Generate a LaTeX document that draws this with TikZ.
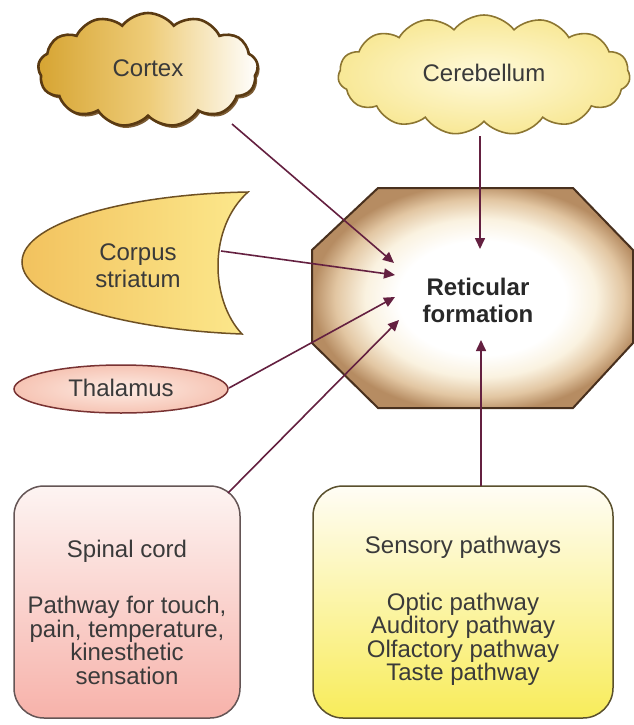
\documentclass[tikz,border=0pt]{standalone}
\usepackage{fontspec}
\setmainfont{Liberation Sans}
\usetikzlibrary{shapes.symbols,shapes.geometric,arrows.meta,shadows}
\definecolor{arrowc}{HTML}{642040}
\definecolor{txt}{HTML}{3A3A3A}
\definecolor{rfA}{HTML}{FAF2E0}
\definecolor{rfB}{HTML}{E2C6A2}
\definecolor{rfC}{HTML}{B68C62}
\definecolor{cxborder}{HTML}{5A3A12}
\definecolor{cxleft}{HTML}{D6A432}
\definecolor{cxmid}{HTML}{EECC78}
\definecolor{cxshadow}{HTML}{6E4B1E}
\definecolor{cbborder}{HTML}{8C7632}
\definecolor{cbin}{HTML}{FFFADC}
\definecolor{cbout}{HTML}{F8E896}
\definecolor{csborder}{HTML}{6E5023}
\definecolor{csleft}{HTML}{F2C25E}
\definecolor{csmid}{HTML}{FBE08C}
\definecolor{csright}{HTML}{FCE88C}
\definecolor{thborder}{HTML}{783232}
\definecolor{thin}{HTML}{FDECE4}
\definecolor{thout}{HTML}{F6C4B4}
\definecolor{rfborder}{HTML}{48301E}
\definecolor{rftext}{HTML}{282828}
\definecolor{spborder}{HTML}{645555}
\definecolor{sptop}{HTML}{FDF4F2}
\definecolor{spbot}{HTML}{F7B2AA}
\definecolor{snborder}{HTML}{5A502D}
\definecolor{sntop}{HTML}{FFFDF5}
\definecolor{snbot}{HTML}{F8EC5A}
\pgfdeclareradialshading{rfshade}{\pgfpoint{2bp}{0bp}}{color(0bp)=(white); color(13bp)=(white); color(18bp)=(rfA); color(22.5bp)=(rfB); color(26bp)=(rfC); color(50bp)=(rfC)}
\tikzset{
  lbl/.style={font=\fontsize{24}{27}\selectfont, text=txt, align=center},
  boxlbl/.style={font=\fontsize{24}{23.5}\selectfont, text=txt, align=center},
  link/.style={draw=arrowc, line width=1.6pt, -{Triangle[length=11pt,width=10pt]}},
}
\begin{document}
\begin{tikzpicture}[x=1pt,y=-1pt]
\useasboundingbox (0,0) rectangle (634,725);
\fill[white] (0,0) rectangle (634,725);

% Cortex cloud
\node[cloud, cloud puffs=13, cloud puff arc=105, aspect=1.9,
      minimum width=220pt, minimum height=114pt, inner sep=0pt,
      draw=cxborder, line width=2.6pt,
      left color=cxleft, right color=white, middle color=cxmid,
      drop shadow={shadow xshift=2pt, shadow yshift=-2.5pt, fill=cxshadow, opacity=0.9}]
      (cortex) at (148,70) {};
\node[lbl] (cortext) at (148,68) {Cortex};

% Cerebellum cloud
\node[cloud, cloud puffs=15, cloud puff arc=105, aspect=2.4,
      minimum width=292pt, minimum height=120pt, inner sep=0pt,
      draw=cbborder, line width=1.6pt,
      inner color=cbin, outer color=cbout]
      (cereb) at (484,75) {};
\node[lbl] (cerebtext) at (484,73) {Cerebellum};

% Corpus striatum
\path[draw=csborder, line width=1.5pt,
      left color=csleft, middle color=csmid, right color=csright]
  (248,192) .. controls (130,194) and (22,222) .. (22,262)
  .. controls (22,302) and (130,330) .. (242,334)
  .. controls (210,300) and (208,228) .. (248,192) -- cycle;
\node[lbl] (corpus) at (138,266) {Corpus\\striatum};

% Thalamus
\node[ellipse, minimum width=214pt, minimum height=48pt,
      draw=thborder, line width=1.5pt,
      inner color=thin, outer color=thout]
      (thal) at (121,389) {};
\node[lbl] (thaltext) at (121,388) {Thalamus};

% Reticular formation octagon
\path[shading=rfshade, draw=rfborder, line width=2pt]
  (378,188) -- (573,188) -- (633,250) -- (633,343) -- (573,408) -- (378,408) -- (312,343) -- (312,250) -- cycle;
\node[lbl, font=\bfseries\fontsize{24}{27}\selectfont, text=rftext] (rf) at (478,300) {Reticular\\formation};

% Bottom boxes
\node[draw=spborder, line width=1.5pt, rounded corners=30pt,
      minimum width=226pt, minimum height=232pt,
      top color=sptop, bottom color=spbot]
      (spinal) at (127,602) {};
\node[boxlbl] (spinaltext) at (127,612) {Spinal cord\\[33pt]Pathway for touch,\\pain, temperature,\\kinesthetic\\sensation};

\node[draw=snborder, line width=1.5pt, rounded corners=30pt,
      minimum width=300pt, minimum height=232pt,
      top color=sntop, bottom color=snbot]
      (sens) at (463,602) {};
\node[boxlbl] (senstext) at (463,611) {Sensory pathways\\[33pt]Optic pathway\\Auditory pathway\\Olfactory pathway\\Taste pathway};

% Connector endpoints
\coordinate (cxs) at (232,124);
\coordinate (cbs) at (480,136);
\coordinate (css) at (221,251);
\coordinate (ths) at (229,388);
\coordinate (sps) at (228,493);
\coordinate (sns) at (481,486);
\coordinate (e1) at (394,263);
\coordinate (e2) at (480,249);
\coordinate (e3) at (395,275);
\coordinate (e4) at (395,297);
\coordinate (e5) at (399,320);
\coordinate (e6) at (481,340);

\draw[link] (cxs) -- (e1);
\draw[link] (cbs) -- (e2);
\draw[link] (css) -- (e3);
\draw[link] (ths) -- (e4);
\draw[link] (sps) -- (e5);
\draw[link] (sns) -- (e6);
\end{tikzpicture}
\end{document}
